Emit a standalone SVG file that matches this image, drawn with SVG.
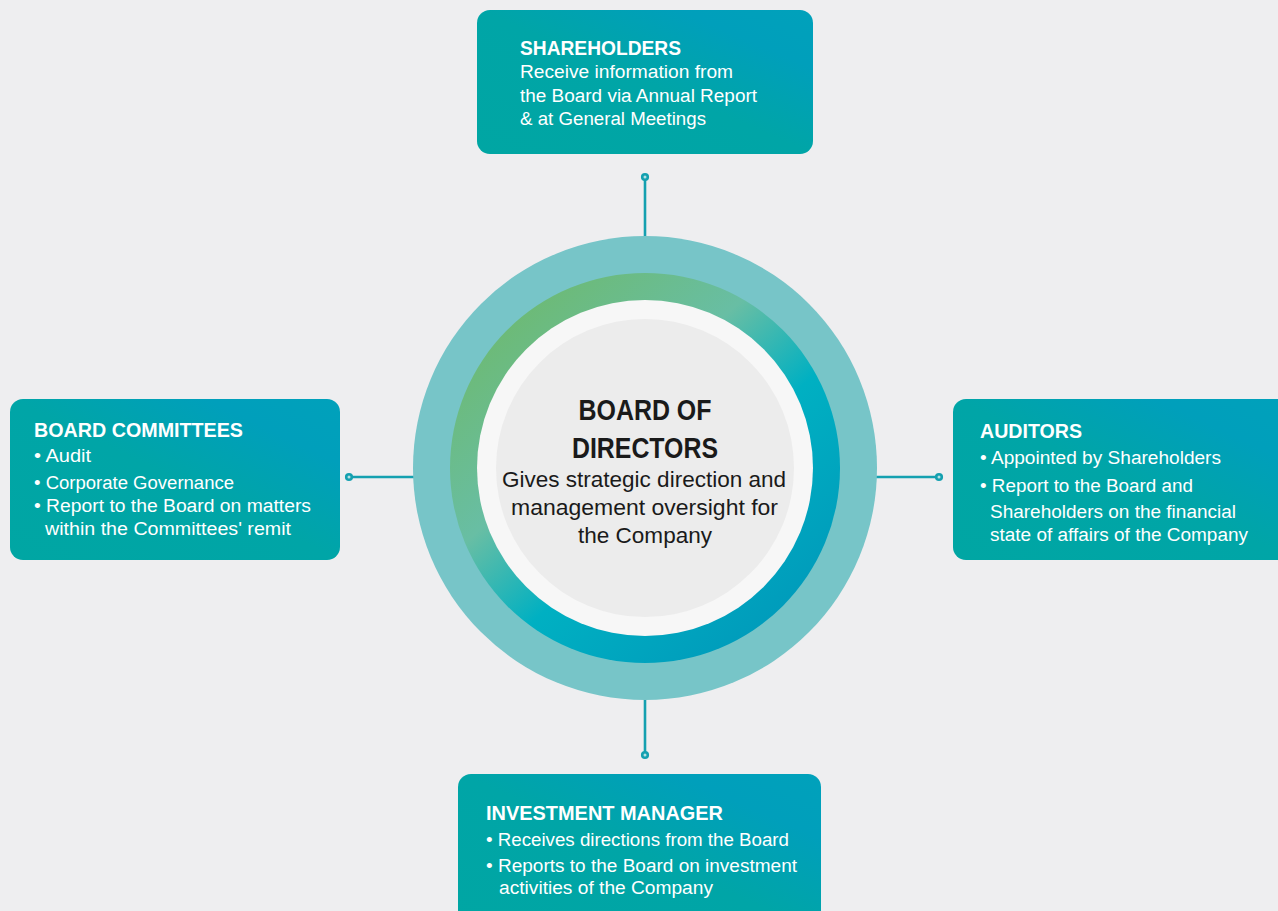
<svg xmlns="http://www.w3.org/2000/svg" width="1278" height="911" viewBox="0 0 1278 911">
<defs>
<linearGradient id="boxg" x1="0" y1="1" x2="1" y2="0">
<stop offset="0" stop-color="#00a6a3"/>
<stop offset="0.5" stop-color="#00a5a7"/>
<stop offset="0.8" stop-color="#009fbb"/>
<stop offset="1" stop-color="#00a1bb"/>
</linearGradient>
<linearGradient id="ringg" x1="0.15" y1="0.1" x2="0.85" y2="0.9">
<stop offset="0" stop-color="#6dba74"/>
<stop offset="0.35" stop-color="#68bea4"/>
<stop offset="0.6" stop-color="#00b0c2"/>
<stop offset="1" stop-color="#009bbb"/>
</linearGradient>
<style>
.box{fill:url(#boxg)}
.t{font-family:"Liberation Sans",Arial,sans-serif;fill:#ffffff}
.h{font-weight:bold;font-size:21px}
.b{font-size:18px}
.c{font-family:"Liberation Sans",Arial,sans-serif;fill:#1a1a1a;text-anchor:middle}
.line{stroke:#14a0b0;stroke-width:2.6;fill:none}
.dot{stroke:#14a0b0;stroke-width:2.6;fill:#b5e0e3}
</style>
</defs>
<rect width="1278" height="911" fill="#eeeef0"/>
<g id="connectors">
<line class="line" x1="645" y1="177" x2="645" y2="240"/>
<circle class="dot" cx="645" cy="177" r="2.8"/>
<line class="line" x1="349" y1="477" x2="416" y2="477"/>
<circle class="dot" cx="349" cy="477" r="2.8"/>
<line class="line" x1="873" y1="477" x2="939" y2="477"/>
<circle class="dot" cx="939" cy="477" r="2.8"/>
<line class="line" x1="645" y1="696" x2="645" y2="755"/>
<circle class="dot" cx="645" cy="755" r="2.8"/>
</g>
<g id="board">
<circle cx="645" cy="468" r="232" fill="#77c5c8"/>
<circle cx="645" cy="468" r="195" fill="url(#ringg)"/>
<circle cx="645" cy="468" r="168" fill="#f7f7f7"/>
<circle cx="645" cy="468" r="149" fill="#ececec"/>
<text class="c" x="645" y="420" font-size="29" font-weight="bold" textLength="133" lengthAdjust="spacingAndGlyphs">BOARD OF</text>
<text class="c" x="645" y="458" font-size="29" font-weight="bold" textLength="146" lengthAdjust="spacingAndGlyphs">DIRECTORS</text>
<text class="c" x="644" y="487" font-size="22" textLength="284" lengthAdjust="spacingAndGlyphs">Gives strategic direction and</text>
<text class="c" x="644.5" y="515" font-size="22" textLength="267" lengthAdjust="spacingAndGlyphs">management oversight for</text>
<text class="c" x="645" y="543" font-size="22" textLength="134" lengthAdjust="spacingAndGlyphs">the Company</text>
</g>
<g id="shareholders">
<rect class="box" x="477" y="10" width="336" height="144" rx="13"/>
<text class="t h" x="520" y="55" textLength="161" lengthAdjust="spacingAndGlyphs">SHAREHOLDERS</text>
<text class="t b" x="520" y="78" textLength="213" lengthAdjust="spacingAndGlyphs">Receive information from</text>
<text class="t b" x="520" y="102" textLength="237" lengthAdjust="spacingAndGlyphs">the Board via Annual Report</text>
<text class="t b" x="520" y="125" textLength="186" lengthAdjust="spacingAndGlyphs">&amp; at General Meetings</text>
</g>
<g id="board-committees">
<rect class="box" x="10" y="399" width="330" height="161" rx="13"/>
<text class="t h" x="34" y="437" textLength="209" lengthAdjust="spacingAndGlyphs">BOARD COMMITTEES</text>
<text class="t b" x="34" y="462" textLength="57" lengthAdjust="spacingAndGlyphs">• Audit</text>
<text class="t b" x="34" y="489" textLength="200" lengthAdjust="spacingAndGlyphs">• Corporate Governance</text>
<text class="t b" x="34" y="512" textLength="277" lengthAdjust="spacingAndGlyphs">• Report  to the Board on matters</text>
<text class="t b" x="45" y="535" textLength="246" lengthAdjust="spacingAndGlyphs">within the Committees' remit</text>
</g>
<g id="auditors">
<rect class="box" x="953" y="399" width="340" height="161" rx="13"/>
<text class="t h" x="980" y="438" textLength="102" lengthAdjust="spacingAndGlyphs">AUDITORS</text>
<text class="t b" x="980" y="464" textLength="241" lengthAdjust="spacingAndGlyphs">• Appointed by Shareholders</text>
<text class="t b" x="980" y="492" textLength="213" lengthAdjust="spacingAndGlyphs">• Report to the Board and</text>
<text class="t b" x="990" y="518" textLength="246" lengthAdjust="spacingAndGlyphs">Shareholders on the financial</text>
<text class="t b" x="990" y="541" textLength="258" lengthAdjust="spacingAndGlyphs">state of affairs of the Company</text>
</g>
<g id="investment-manager">
<rect class="box" x="458" y="774" width="363" height="160" rx="13"/>
<text class="t h" x="486" y="820" textLength="237" lengthAdjust="spacingAndGlyphs">INVESTMENT MANAGER</text>
<text class="t b" x="486" y="846" textLength="303" lengthAdjust="spacingAndGlyphs">• Receives directions from the Board</text>
<text class="t b" x="486" y="872" textLength="311" lengthAdjust="spacingAndGlyphs">• Reports to the Board on investment</text>
<text class="t b" x="499" y="894" textLength="214" lengthAdjust="spacingAndGlyphs">activities of the Company</text>
</g>
</svg>
